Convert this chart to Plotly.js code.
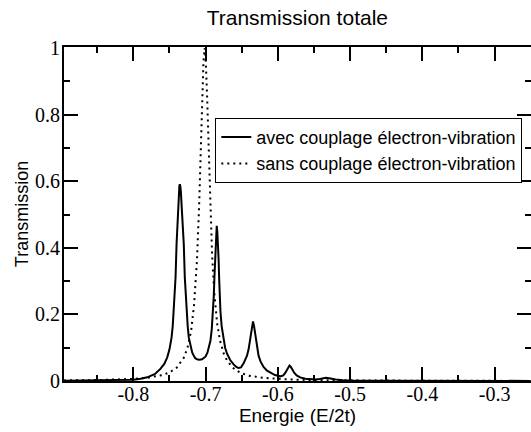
<!DOCTYPE html>
<html>
<head>
<meta charset="utf-8">
<script src="https://cdn.plot.ly/plotly-3.0.1.min.js"></script>
<style>html,body{margin:0;padding:0;background:#fff;}#chart{width:531px;height:432px;}</style>
</head>
<body>
<div id="chart"></div>
<script>
// Energie (E/2t) and transmission, avec couplage électron-vibration
const energieAvec = [-0.896, -0.85, -0.82, -0.80, -0.79, -0.7807, -0.77, -0.7623, -0.757, -0.7531, -0.750, -0.7471, -0.7455, -0.744, -0.7427, -0.7416, -0.7402, -0.7392, -0.7384, -0.7377, -0.737, -0.7363, -0.7357, -0.7351, -0.7343, -0.7335, -0.7324, -0.7313, -0.7302, -0.7288, -0.7276, -0.7264, -0.7248, -0.7233, -0.721, -0.7186, -0.716, -0.714, -0.711, -0.7081, -0.705, -0.7025, -0.7002, -0.6975, -0.6955, -0.6933, -0.6915, -0.6896, -0.6887, -0.6878, -0.6869, -0.686, -0.6853, -0.6846, -0.6838, -0.6827, -0.682, -0.6813, -0.6804, -0.6795, -0.6778, -0.6758, -0.673, -0.6703, -0.666, -0.6612, -0.658, -0.6545, -0.651, -0.6474, -0.645, -0.6427, -0.6405, -0.639, -0.6375, -0.636, -0.6344, -0.633, -0.6315, -0.630, -0.6285, -0.6267, -0.624, -0.6198, -0.615, -0.6105, -0.604, -0.5967, -0.5925, -0.5898, -0.587, -0.5855, -0.5839, -0.5822, -0.5805, -0.5774, -0.574, -0.5691, -0.562, -0.5553, -0.548, -0.542, -0.538, -0.5332, -0.529, -0.525, -0.52, -0.51, -0.50, -0.45, -0.40, -0.30, -0.25];
const transAvec = [0.001, 0.002, 0.003, 0.004, 0.007, 0.011, 0.021, 0.037, 0.052, 0.071, 0.095, 0.131, 0.165, 0.211, 0.26, 0.311, 0.411, 0.47, 0.511, 0.545, 0.572, 0.586, 0.591, 0.586, 0.570, 0.545, 0.511, 0.46, 0.411, 0.311, 0.26, 0.211, 0.165, 0.131, 0.104, 0.086, 0.074, 0.068, 0.0645, 0.0636, 0.065, 0.068, 0.073, 0.085, 0.100, 0.121, 0.155, 0.211, 0.255, 0.311, 0.365, 0.411, 0.445, 0.466, 0.448, 0.411, 0.365, 0.311, 0.255, 0.211, 0.165, 0.131, 0.100, 0.082, 0.063, 0.050, 0.043, 0.039, 0.041, 0.053, 0.063, 0.076, 0.095, 0.115, 0.14, 0.163, 0.179, 0.165, 0.14, 0.115, 0.095, 0.076, 0.059, 0.042, 0.031, 0.025, 0.018, 0.0140, 0.017, 0.024, 0.036, 0.043, 0.0465, 0.043, 0.036, 0.025, 0.017, 0.011, 0.0068, 0.0052, 0.0048, 0.006, 0.0083, 0.0096, 0.0083, 0.006, 0.0042, 0.0025, 0.0018, 0.0008, 0.0006, 0.0004, 0.0003];
// sans couplage électron-vibration
const energieSans = [-0.896, -0.85, -0.80, -0.78, -0.76, -0.75, -0.74, -0.73, -0.725, -0.72, -0.716, -0.712, -0.709, -0.707, -0.705, -0.703, -0.7013, -0.70, -0.698, -0.696, -0.694, -0.691, -0.688, -0.684, -0.68, -0.675, -0.67, -0.66, -0.65, -0.64, -0.62, -0.60, -0.58, -0.55, -0.50, -0.45, -0.40, -0.30, -0.25];
const transSans = [0.0017, 0.0028, 0.0064, 0.010, 0.0178, 0.0256, 0.040, 0.0704, 0.10, 0.151, 0.228, 0.36, 0.525, 0.675, 0.830, 0.958, 1.0, 0.976, 0.858, 0.705, 0.553, 0.378, 0.265, 0.172, 0.121, 0.083, 0.060, 0.035, 0.023, 0.016, 0.0093, 0.006, 0.0042, 0.0027, 0.0015, 0.001, 0.0007, 0.0004, 0.0003];
const xTickVals = [-0.8, -0.7, -0.6, -0.5, -0.4, -0.3];
const xTickText = ['-0.8', '-0.7', '-0.6', '-0.5', '-0.4', '-0.3'];
const yTickVals = [0, 0.2, 0.4, 0.6, 0.8, 1];
const yTickText = ['0', '0.2', '0.4', '0.6', '0.8', '1'];

const traces = [
  {x: energieAvec, y: transAvec, mode: 'lines', name: 'avec couplage électron-vibration',
   line: {color: '#000', width: 2}},
  {x: energieSans, y: transSans, mode: 'lines', name: 'sans couplage électron-vibration',
   line: {color: '#000', width: 2, dash: '2px,4px'}}
];

const axisCommon = {
  showgrid: false, zeroline: false, showline: true, linecolor: '#000', linewidth: 2,
  mirror: 'ticks', ticks: 'inside', ticklen: 14, tickwidth: 2, tickcolor: '#000',
  tickfont: {family: 'Times New Roman, Liberation Serif, serif', size: 20, color: '#000'},
  tickmode: 'array'
};

const layout = {
  width: 531, height: 432,
  margin: {l: 64, r: 0, t: 47, b: 51},
  paper_bgcolor: '#fff', plot_bgcolor: '#fff',
  font: {family: 'Liberation Sans, Arial, sans-serif', color: '#000'},
  title: {text: 'Transmission totale', font: {size: 21, family: 'Liberation Sans, Arial, sans-serif'},
          x: 0.56, xanchor: 'center', y: 0.958, yanchor: 'middle'},
  xaxis: Object.assign({}, axisCommon, {
    range: [-0.896, -0.2496], tickvals: xTickVals, ticktext: xTickText, ticklabelstandoff: -6,
    minor: {tickmode: 'linear', tick0: 0, dtick: 0.05, ticklen: 6, tickwidth: 2, tickcolor: '#000', ticks: 'inside', showgrid: false},
    title: {text: 'Energie (E/2t)', font: {size: 19}, standoff: 0}
  }),
  yaxis: Object.assign({}, axisCommon, {
    range: [0, 1.003], tickvals: yTickVals, ticktext: yTickText, ticklabelstandoff: -2,
    minor: {tickmode: 'linear', tick0: 0, dtick: 0.1, ticklen: 6, tickwidth: 2, tickcolor: '#000', ticks: 'inside', showgrid: false},
    title: {text: 'Transmission', font: {size: 18}, standoff: 2}
  }),
  showlegend: true,
  legend: {x: 0.324, y: 0.788, xanchor: 'left', yanchor: 'top',
           bgcolor: '#fff', bordercolor: '#000', borderwidth: 1,
           font: {size: 18, family: 'Liberation Sans, Arial, sans-serif'},
           itemwidth: 30, tracegroupgap: 0}
};

Plotly.newPlot('chart', traces, layout, {displayModeBar: false, staticPlot: true});
</script>
</body>
</html>
